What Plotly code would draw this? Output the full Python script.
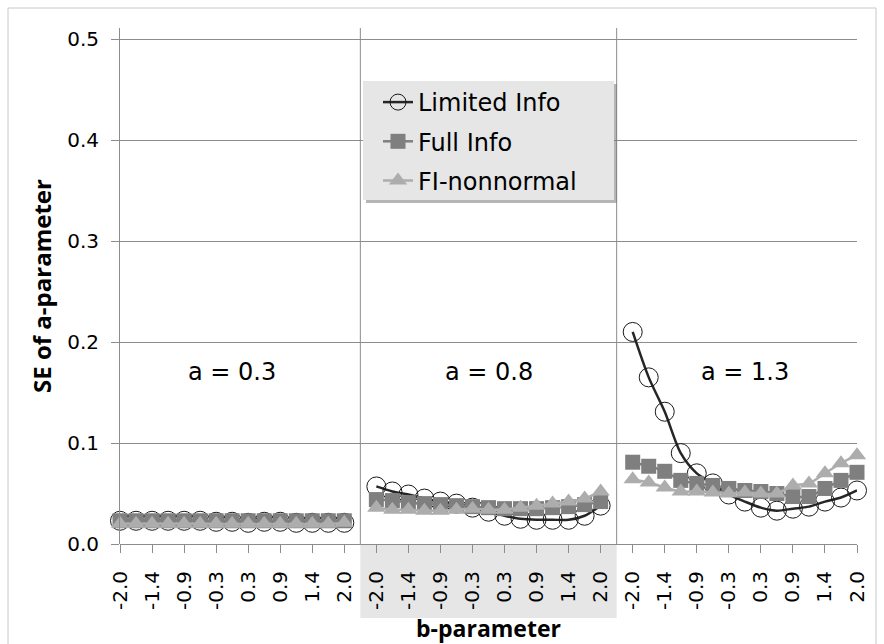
import plotly.graph_objects as go

# ---- data ----
b_labels = ["-2.0", "-1.4", "-0.9", "-0.3", "0.3", "0.9", "1.4", "2.0"]
panel_labels = ["a = 0.3", "a = 0.8", "a = 1.3"]

limited_a03 = [0.023, 0.023, 0.023, 0.023, 0.023, 0.023, 0.022, 0.022, 0.021, 0.022, 0.022, 0.021, 0.021, 0.021, 0.021]
limited_a08 = [0.057, 0.052, 0.049, 0.045, 0.042, 0.040, 0.036, 0.032, 0.028, 0.025, 0.024, 0.024, 0.024, 0.028, 0.038]
limited_a13 = [0.210, 0.165, 0.131, 0.090, 0.070, 0.060, 0.049, 0.042, 0.036, 0.033, 0.035, 0.037, 0.042, 0.046, 0.053]

full_a03 = [0.023, 0.023, 0.023, 0.023, 0.023, 0.023, 0.023, 0.023, 0.023, 0.023, 0.023, 0.023, 0.023, 0.023, 0.023]
full_a08 = [0.044, 0.043, 0.041, 0.040, 0.039, 0.038, 0.037, 0.036, 0.035, 0.035, 0.035, 0.036, 0.037, 0.039, 0.042]
full_a13 = [0.081, 0.077, 0.072, 0.063, 0.060, 0.058, 0.055, 0.053, 0.052, 0.050, 0.047, 0.047, 0.055, 0.063, 0.071]

finn_a03 = [0.020, 0.020, 0.020, 0.020, 0.020, 0.020, 0.020, 0.020, 0.020, 0.020, 0.020, 0.020, 0.020, 0.020, 0.021]
finn_a08 = [0.036, 0.034, 0.034, 0.033, 0.033, 0.034, 0.035, 0.034, 0.034, 0.036, 0.038, 0.040, 0.042, 0.045, 0.052]
finn_a13 = [0.064, 0.061, 0.056, 0.052, 0.052, 0.051, 0.050, 0.051, 0.050, 0.050, 0.058, 0.060, 0.070, 0.080, 0.088]

series_names = ["Limited Info", "Full Info", "FI-nonnormal"]

# ---- build a category axis with a blank slot between panels ----
n_pts = len(b_labels) * 2 - 1  # 15 points per panel
gap = 1
stride = n_pts + gap


def join(*panels):
    out = []
    for k, p in enumerate(panels):
        out += list(p)
        if k < len(panels) - 1:
            out += [None] * gap
    return out


limited = join(limited_a03, limited_a08, limited_a13)
full = join(full_a03, full_a08, full_a13)
finn = join(finn_a03, finn_a08, finn_a13)
xs = list(range(len(limited)))

tickvals = [k for k in xs if (k % stride) % 2 == 0 and (k % stride) < n_pts]
ticktext = [b_labels[(k % stride) // 2] for k in tickvals]

# ---- geometry (pixels) ----
W, H = 884, 644
L, R, T, B = 120, 857, 28, 544
YMAX = 0.511


def px(xp):
    return (xp - L) / (R - L)


def py(yp):
    return (B - yp) / (B - T)


fig = go.Figure()

fig.add_trace(go.Scatter(
    x=xs, y=limited, name=series_names[0], mode="lines+markers",
    line=dict(color="#262626", width=2.5, shape="spline", smoothing=0.8),
    marker=dict(symbol="circle-open", size=19, color="#1a1a1a", line=dict(width=1)),
    connectgaps=False, cliponaxis=False, legendgroup="g1",
))
fig.add_trace(go.Scatter(
    x=xs, y=full, name=series_names[1], mode="lines+markers",
    line=dict(color="#7f7f7f", width=2.5, shape="spline", smoothing=0.8),
    marker=dict(symbol="square", size=15, color="#7f7f7f"),
    connectgaps=False, cliponaxis=False, legendgroup="g2",
))
fig.add_trace(go.Scatter(
    x=xs, y=finn, name=series_names[2], mode="lines+markers",
    line=dict(color="#adadad", width=2.5, shape="spline", smoothing=0.8),
    marker=dict(symbol="triangle-up", size=16, color="#adadad"),
    connectgaps=False, cliponaxis=False, legendgroup="g3",
))

shapes = []
# outer chart border
shapes.append(dict(type="rect", xref="paper", yref="paper",
                   x0=px(8), x1=px(876), y0=py(8), y1=py(660),
                   line=dict(color="#c8c8c8", width=1), fillcolor="rgba(0,0,0,0)", layer="below"))
# shaded band under middle panel labels
shapes.append(dict(type="rect", xref="x", yref="paper",
                   x0=stride - 1, x1=2 * stride - 1,
                   y0=py(618), y1=0,
                   line=dict(width=0), fillcolor="#e6e6e6", layer="below"))
# panel dividers
for k in (1, 2):
    xd = k * stride - 1
    shapes.append(dict(type="line", xref="x", yref="paper", x0=xd, x1=xd, y0=0, y1=1,
                       line=dict(color="#8c8c8c", width=1), layer="below"))
# legend box with shadow
shapes.append(dict(type="rect", xref="paper", yref="paper",
                   x0=px(366), x1=px(617), y0=py(84), y1=py(203),
                   line=dict(width=0), fillcolor="rgba(120,120,120,0.55)", layer="above"))
shapes.append(dict(type="rect", xref="paper", yref="paper",
                   x0=px(363), x1=px(614), y0=py(81), y1=py(200),
                   line=dict(width=0), fillcolor="#e6e6e6", layer="above"))

annotations = []
for k, lab in enumerate(panel_labels):
    annotations.append(dict(x=k * stride + (n_pts - 1) / 2, y=py(388), xref="x", yref="paper",
                            text=lab, showarrow=False,
                            font=dict(family="DejaVu Sans", size=24, color="#000000")))

fig.update_layout(
    width=W, height=H,
    margin=dict(l=L, r=W - R, t=T, b=H - B),
    paper_bgcolor="white", plot_bgcolor="white",
    shapes=shapes, annotations=annotations,
    showlegend=True,
    legend=dict(x=px(378), y=py(80), xanchor="left", yanchor="top",
                bgcolor="rgba(0,0,0,0)", borderwidth=0,
                font=dict(family="DejaVu Sans", size=24, color="#000000"),
                tracegroupgap=5, traceorder="grouped"),
    xaxis=dict(range=[0, len(xs) - 1], tickmode="array", tickvals=tickvals, ticktext=ticktext,
               tickangle=-90, ticks="outside", ticklen=8, tickcolor="#8c8c8c",
               showgrid=False, zeroline=False, showline=False, automargin=False,
               ticklabelstandoff=10,
               tickfont=dict(family="DejaVu Sans", size=20, color="#000000"),
               title=dict(text="<b>b-parameter</b>", standoff=16,
                          font=dict(family="Open Sans", size=23, color="#000000"))),
    yaxis=dict(range=[0, YMAX], tickmode="array", tickvals=[0, 0.1, 0.2, 0.3, 0.4, 0.5],
               ticktext=["0.0", "0.1", "0.2", "0.3", "0.4", "0.5"],
               ticks="outside", ticklen=8, tickcolor="#8c8c8c",
               showgrid=True, gridcolor="#8c8c8c", gridwidth=1,
               zeroline=True, zerolinecolor="#8c8c8c", zerolinewidth=1,
               showline=True, linecolor="#8c8c8c", linewidth=1, automargin=False,
               ticklabelstandoff=8,
               tickfont=dict(family="DejaVu Sans", size=20, color="#000000"),
               title=dict(text="<b>SE of a-parameter</b>", standoff=8,
                          font=dict(family="Open Sans", size=24, color="#000000"))),
)

fig.write_html("out.html")
